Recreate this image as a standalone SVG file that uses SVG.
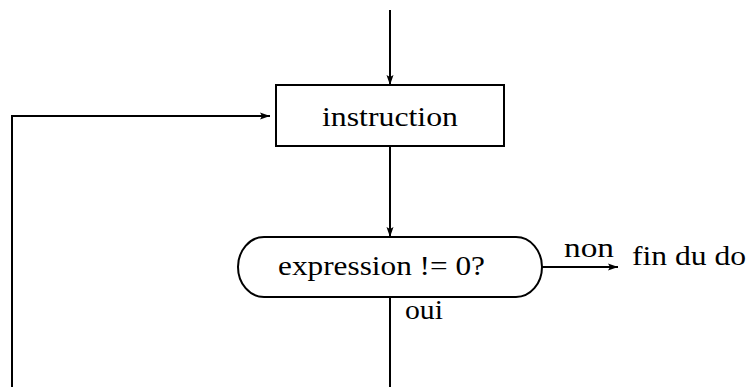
<svg xmlns="http://www.w3.org/2000/svg" width="750" height="387" viewBox="0 0 750 387">
<style>
.ln{stroke:#000;stroke-width:2;fill:none}
.sh{stroke:#000;stroke-width:2;fill:#fff}
.t{font-family:"Liberation Serif","DejaVu Serif",serif;font-size:28px;fill:#000}
</style>
<defs>
<marker id="ah" viewBox="0 0 10 10" refX="10" refY="5" markerWidth="10" markerHeight="10" markerUnits="userSpaceOnUse" orient="auto">
<path d="M0,1.5 L10,5 L0,8.5 L2,5 Z" fill="#000"/>
</marker>
</defs>
<g id="connectors">
<line class="ln" x1="390" y1="10" x2="390" y2="85" marker-end="url(#ah)"/>
<line class="ln" x1="390" y1="146" x2="390" y2="237" marker-end="url(#ah)"/>
<line class="ln" x1="390" y1="298" x2="390" y2="387"/>
<polyline class="ln" points="12,387 12,116 270,116" marker-end="url(#ah)"/>
<line class="ln" x1="542" y1="267" x2="618" y2="267" marker-end="url(#ah)"/>
<text class="t" x="564" y="257" textLength="50" lengthAdjust="spacingAndGlyphs">non</text>
<text class="t" x="405" y="319" textLength="38" lengthAdjust="spacingAndGlyphs">oui</text>
</g>
<g id="instruction">
<rect class="sh" x="276" y="85" width="228" height="61"/>
<text class="t" x="322" y="126" textLength="136" lengthAdjust="spacingAndGlyphs">instruction</text>
</g>
<g id="decision">
<path class="sh" d="M264,237 L516,237 A26,30 0 0 1 516,297 L264,297 A26,30 0 0 1 264,237 Z"/>
<text class="t" x="278" y="275" textLength="207" lengthAdjust="spacingAndGlyphs">expression != 0?</text>
</g>
<g id="fin">
<text class="t" x="632" y="265" textLength="114" lengthAdjust="spacingAndGlyphs">fin du do</text>
</g>
</svg>
